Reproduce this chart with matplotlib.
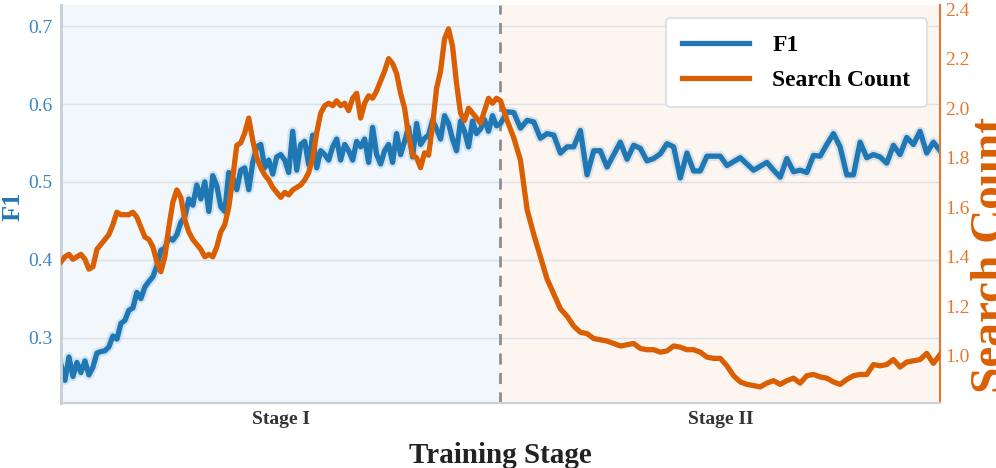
import numpy as np
import matplotlib
matplotlib.use("Agg")
import matplotlib.pyplot as plt

# --- data ---
f1_stage1 = [
    0.265, 0.245, 0.275, 0.250, 0.268, 0.255, 0.270, 0.252, 0.262, 0.280,
    0.282, 0.283, 0.288, 0.302, 0.298, 0.318, 0.322, 0.335, 0.338, 0.358,
    0.350, 0.365, 0.372, 0.378, 0.392, 0.412, 0.415, 0.428, 0.425, 0.432,
    0.448, 0.455, 0.478, 0.470, 0.496, 0.478, 0.500, 0.462, 0.508, 0.495,
    0.468, 0.462, 0.512, 0.505, 0.490, 0.515, 0.518, 0.490, 0.525, 0.545,
    0.548, 0.518, 0.528, 0.510, 0.532, 0.535, 0.528, 0.512, 0.565, 0.515,
    0.548, 0.552, 0.522, 0.560, 0.518, 0.540, 0.535, 0.528, 0.545, 0.555,
    0.528, 0.548, 0.540, 0.528, 0.552, 0.545, 0.555, 0.525, 0.570, 0.535,
    0.523, 0.540, 0.548, 0.525, 0.562, 0.535, 0.552, 0.570, 0.532, 0.575,
    0.548, 0.556, 0.560, 0.579, 0.568, 0.555, 0.585, 0.575, 0.555, 0.540,
    0.578, 0.565, 0.545, 0.578, 0.562, 0.568, 0.580, 0.565, 0.585, 0.572,
]
f1_stage2 = [
    0.575, 0.590, 0.589, 0.569, 0.579, 0.577, 0.556, 0.562, 0.560, 0.537,
    0.545, 0.545, 0.566, 0.509, 0.540, 0.540, 0.519, 0.535, 0.551, 0.529,
    0.547, 0.543, 0.527, 0.530, 0.536, 0.549, 0.545, 0.505, 0.537, 0.514,
    0.514, 0.533, 0.533, 0.533, 0.521, 0.526, 0.531, 0.523, 0.515, 0.520,
    0.525, 0.515, 0.506, 0.530, 0.513, 0.515, 0.512, 0.534, 0.533, 0.548,
    0.562, 0.545, 0.509, 0.509, 0.551, 0.531, 0.535, 0.532, 0.524, 0.547,
    0.535, 0.557, 0.548, 0.565, 0.537, 0.551, 0.540,
]
search_stage1 = [
    1.38, 1.40, 1.41, 1.39, 1.40, 1.41, 1.39, 1.35, 1.36, 1.43,
    1.45, 1.47, 1.49, 1.53, 1.58, 1.57, 1.57, 1.57, 1.58, 1.56,
    1.52, 1.48, 1.47, 1.44, 1.38, 1.34, 1.40, 1.52, 1.62, 1.67,
    1.64, 1.55, 1.50, 1.47, 1.45, 1.43, 1.40, 1.41, 1.40, 1.44,
    1.50, 1.53, 1.60, 1.72, 1.85, 1.86, 1.90, 1.96, 1.87, 1.80,
    1.76, 1.73, 1.71, 1.68, 1.66, 1.64, 1.66, 1.65, 1.67, 1.68,
    1.69, 1.71, 1.74, 1.80, 1.90, 1.98, 2.01, 2.02, 2.01, 2.03,
    2.01, 2.02, 1.99, 2.04, 2.06, 1.96, 2.02, 2.05, 2.04, 2.07,
    2.11, 2.15, 2.20, 2.18, 2.14, 2.06, 2.00, 1.89, 1.81, 1.80,
    1.76, 1.82, 1.81, 1.93, 2.08, 2.15, 2.28, 2.32, 2.25, 2.10,
    1.98, 1.95, 2.00, 1.98, 1.96, 1.94, 1.99, 2.04, 2.02, 2.04,
]
search_stage2 = [
    2.03, 1.95, 1.88, 1.79, 1.59, 1.49, 1.40, 1.31, 1.25, 1.19,
    1.16, 1.12, 1.095, 1.09, 1.07, 1.065, 1.06, 1.05, 1.04, 1.045,
    1.05, 1.03, 1.025, 1.025, 1.015, 1.02, 1.04, 1.035, 1.025, 1.025,
    1.015, 0.995, 0.99, 0.99, 0.96, 0.92, 0.895, 0.885, 0.88, 0.875,
    0.89, 0.90, 0.885, 0.90, 0.91, 0.89, 0.92, 0.925, 0.915, 0.91,
    0.895, 0.885, 0.905, 0.92, 0.925, 0.925, 0.965, 0.96, 0.965, 0.985,
    0.955, 0.975, 0.98, 0.985, 1.01, 0.97, 1.005,
]
stage_labels = ["Stage I", "Stage II"]
f1_ticks = [0.3, 0.4, 0.5, 0.6, 0.7]
search_ticks = [1.0, 1.2, 1.4, 1.6, 1.8, 2.0, 2.2, 2.4]

BLUE = "#1f77b4"
ORANGE = "#d95f02"

plt.rcParams["font.family"] = ["Liberation Serif", "DejaVu Serif"]

# stage I is logged densely, stage II sparsely; each stage fills half the axis
x1 = np.linspace(0, 0.5, len(f1_stage1), endpoint=False)
x2 = np.linspace(0.5, 1.0, len(f1_stage2))
x = np.concatenate([x1, x2])
f1 = np.concatenate([f1_stage1, f1_stage2])
search = np.concatenate([search_stage1, search_stage2])

fig = plt.figure(figsize=(9.96, 4.68), dpi=100)
ax = fig.add_subplot(111)
fig.subplots_adjust(left=0.0612, right=0.9438, bottom=0.139, top=0.989)

ax.axvspan(0, 0.5, color="#f2f7fc", zorder=0)
ax.axvspan(0.5, 1.0, color="#fdf5f0", zorder=0)
ax.axvline(0.5, color="#8a8f96", lw=2, ls=(0, (4, 3)), zorder=1)

ax.set_yticks(f1_ticks)
ax.grid(axis="y", color="#dde1e6", lw=1, zorder=0.5)
ax.set_axisbelow(True)

# faint halo under the F1 line
ax.plot(x, f1, color=BLUE, lw=7, alpha=0.15, solid_joinstyle="round", zorder=2)
l1, = ax.plot(x, f1, color=BLUE, lw=3.8, solid_joinstyle="round", zorder=3, label="F1")

ax.set_xlim(0, 1)
ax.set_ylim(0.216, 0.727)
ax.set_xticks([0.25, 0.75])
ax.set_xticklabels(stage_labels, fontsize=14, fontweight="bold", color="#333333")
ax.tick_params(axis="x", length=0, pad=6)
ax.tick_params(axis="y", length=0, labelsize=14, labelcolor="#3a86c2", pad=6)
ax.set_ylabel("F1", fontsize=19, fontweight="bold", color=BLUE)
ax.yaxis.set_label_coords(-0.041, 0.495)
ax.set_xlabel("Training Stage", fontsize=21, fontweight="bold", color="#222222", labelpad=10)

ax2 = ax.twinx()
l2, = ax2.plot(x, search, color=ORANGE, lw=3.8, solid_joinstyle="round", zorder=3, label="Search Count")
ax2.set_ylim(0.81, 2.416)
ax2.set_yticks(search_ticks)
ax2.tick_params(axis="y", length=0, labelsize=14, labelcolor="#e07a30", pad=4)
# the reference runs this label right up to (and a little past) the image edge
ax2.set_ylabel("Search Count", fontsize=34, fontweight="bold", color=ORANGE)
ax2.yaxis.set_label_coords(1.0355, 0.372)

for a in (ax, ax2):
    a.spines["top"].set_visible(False)
    a.spines["left"].set_color("#c9d1d9")
    a.spines["left"].set_linewidth(2)
    a.spines["bottom"].set_color("#c9d1d9")
    a.spines["bottom"].set_linewidth(1.5)
ax.spines["right"].set_visible(False)
ax2.spines["right"].set_color("#e07a30")
ax2.spines["right"].set_linewidth(1.5)

leg = ax2.legend(handles=[l1, l2], loc="upper right", bbox_to_anchor=(0.985, 0.967),
                 borderaxespad=0, prop={"weight": "bold", "size": 17}, handlelength=2.8,
                 borderpad=0.7, labelspacing=0.55, handletextpad=1.0,
                 frameon=True, fancybox=True, framealpha=1, edgecolor="#dddddd")
leg.get_frame().set_linewidth(1.2)

fig.savefig("out.png", dpi=100)
